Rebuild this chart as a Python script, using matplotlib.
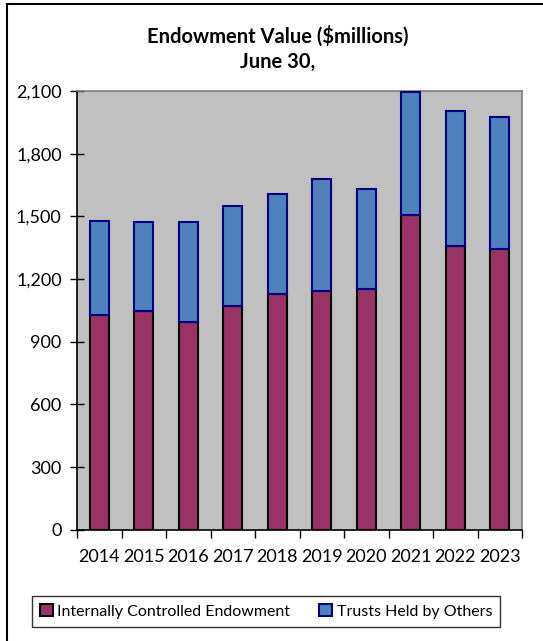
import matplotlib
matplotlib.use("Agg")
import matplotlib.pyplot as plt
from matplotlib.lines import Line2D
from matplotlib.ticker import FuncFormatter, FixedLocator
import numpy as np

plt.rcParams['font.family'] = ['Lato', 'DejaVu Sans']

years = ["2014", "2015", "2016", "2017", "2018", "2019", "2020", "2021", "2022", "2023"]
internal = [1027, 1046, 992, 1072, 1129, 1141, 1150, 1506, 1359, 1344]
trusts = [453, 428, 482, 477, 476, 537, 482, 588, 643, 632]
yticks = [0, 300, 600, 900, 1200, 1500, 1800, 2100]

W, H = 543, 641
fig = plt.figure(figsize=(W / 100, H / 100), dpi=100)
fig.patch.set_facecolor('white')

# outer frame lines (top and left)
fig.add_artist(Line2D([7 / W, 1], [1 - 4 / H, 1 - 4 / H], color='black', lw=1.5, transform=fig.transFigure))
fig.add_artist(Line2D([7 / W, 7 / W], [0, 1 - 4 / H], color='black', lw=1.5, transform=fig.transFigure))

left, right, top, bottom = 77, 522, 91, 529.7
ax = fig.add_axes([left / W, 1 - bottom / H, (right - left) / W, (bottom - top) / H])
ax.set_facecolor('#C0C0C0')

x = np.arange(len(years))
ax.bar(x, internal, width=0.42, color='#993366', edgecolor='black', linewidth=1.5, zorder=3,
       label='Internally Controlled Endowment')
ax.bar(x, trusts, width=0.42, bottom=internal, color='#4F81BD', edgecolor='#000080', linewidth=1.5, zorder=3,
       label='Trusts Held by Others')

ax.set_xlim(-0.5, len(years) - 0.5)
ax.set_ylim(0, 2100)
ax.yaxis.set_major_locator(FixedLocator(yticks))
ax.yaxis.set_major_formatter(FuncFormatter(lambda v, p: f"{int(v):,}"))
ax.set_xticks(x)
ax.set_xticklabels(years)
ax.xaxis.set_minor_locator(FixedLocator(np.arange(-0.5, len(years), 1.0)))
ax.tick_params(axis='x', which='major', length=0, pad=14, labelsize=13)
ax.tick_params(axis='x', which='minor', length=6, width=1, direction='out', color='black')
ax.tick_params(axis='y', which='major', length=10, width=1, direction='inout', pad=6, labelsize=13)

for s in ['top', 'right']:
    ax.spines[s].set_color('#808080')
    ax.spines[s].set_linewidth(1.2)
for s in ['left', 'bottom']:
    ax.spines[s].set_color('black')
    ax.spines[s].set_linewidth(1.2)

fig.text(277.5 / W, 1 - 36 / H, "Endowment Value ($millions)", ha='center', va='center',
         fontsize=14.5, fontweight='bold')
fig.text(277.5 / W, 1 - 62 / H, "June 30,", ha='center', va='center',
         fontsize=14.5, fontweight='bold')

leg = fig.legend(loc='center', bbox_to_anchor=(266 / W, 1 - 611.5 / H), ncol=2, frameon=True,
                 fancybox=False, edgecolor='black', fontsize=11.5, handlelength=0.8, handleheight=0.8,
                 handletextpad=0.3, columnspacing=1.8, borderpad=0.5)
leg.get_frame().set_linewidth(1.0)

fig.savefig('out.png', dpi=100, facecolor='white')
